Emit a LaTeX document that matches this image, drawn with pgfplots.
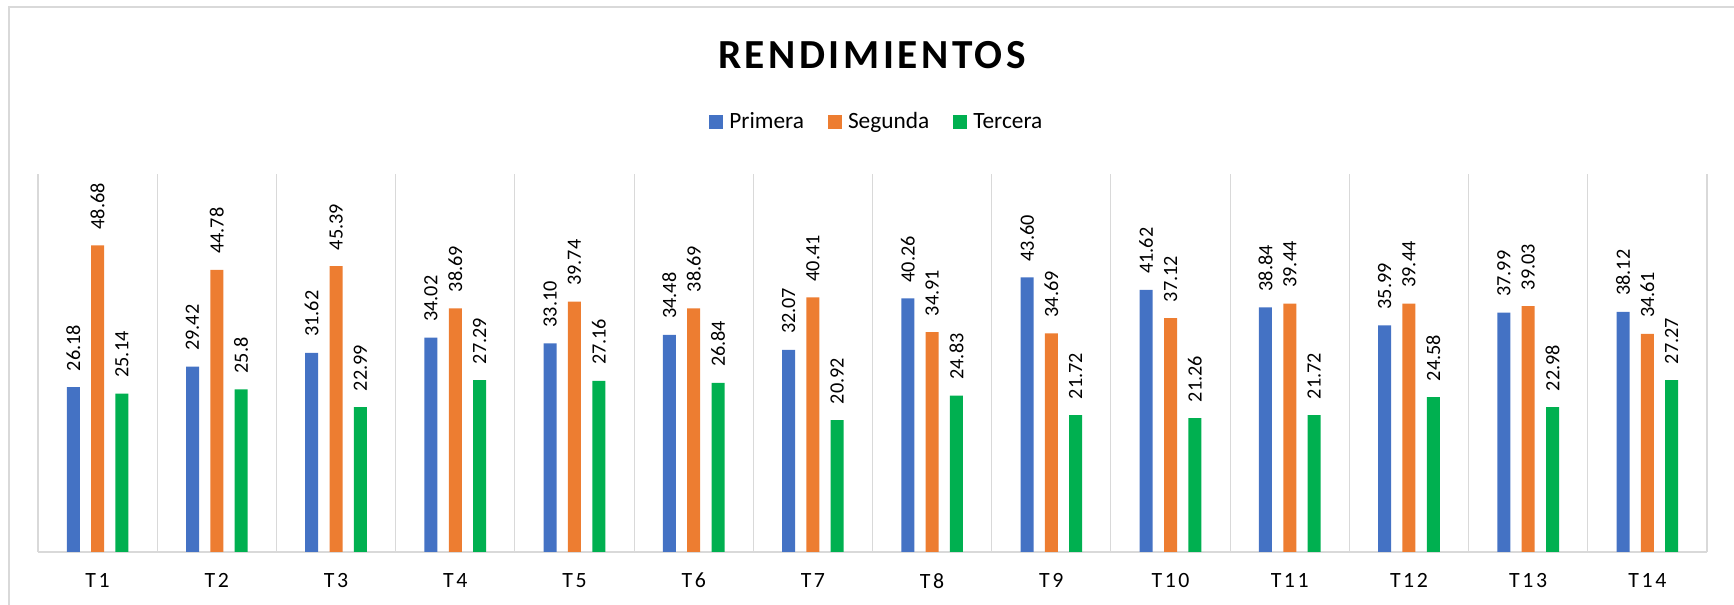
\documentclass[border=0pt]{standalone}
\usepackage{fontspec}
\setmainfont{Carlito}
\usepackage{pgfplots}
\pgfplotsset{compat=1.18}

\definecolor{cPri}{HTML}{4472C4}
\definecolor{cSeg}{HTML}{ED7D31}
\definecolor{cTer}{HTML}{00B050}
\definecolor{gridc}{HTML}{D9D9D9}

\begin{document}
\begin{tikzpicture}
% page = 1734 x 605 px at 0.25 mm per px
\useasboundingbox (0,0) rectangle (433.5mm,151.25mm);
\draw[gridc, line width=0.3mm] (2.25mm,-5mm) rectangle (440mm,149.5mm);

\node[font=\fontsize{29.4}{34}\selectfont\bfseries\addfontfeature{LetterSpace=8.5}]
  at (218mm,137.5mm) {RENDIMIENTOS};

\begin{axis}[
    at={(9.5mm,13.25mm)}, anchor=south west,
    scale only axis,
    width=417.25mm, height=94.5mm,
    ybar=2.83mm, bar width=3.25mm,
    xmin=0.5, xmax=14.5,
    ymin=0, ymax=60,
    enlarge x limits=false,
    axis x line*=bottom, axis y line=none,
    x axis line style={gridc, line width=0.75pt},
    ytick=\empty,
    xtick={1,...,14},
    xticklabels={T1,T2,T3,T4,T5,T6,T7,T8,T9,T10,T11,T12,T13,T14},
    major tick length=0pt, minor tick length=0pt,
    minor xtick={0.5,1.5,...,14.5},
    xminorgrids,
    minor x grid style={gridc, line width=0.75pt},
    xticklabel style={font=\fontsize{15.5}{18}\selectfont\addfontfeature{LetterSpace=12},
        inner sep=0pt, yshift=-5.25mm},
    clip=false,
    point meta=explicit symbolic,
    nodes near coords,
    every node near coord/.append style={font=\fontsize{14.4}{17}\selectfont,
        rotate=90, anchor=west, inner sep=0pt, outer xsep=4mm, text=black},
    legend columns=3,
    legend style={draw=none, fill=none, at={(0.502,1.138)}, anchor=center,
        font=\fontsize{16.6}{20}\selectfont, nodes={inner sep=0pt},
        /tikz/every odd column/.append style={column sep=1.5mm},
        /tikz/every even column/.append style={column sep=6mm}},
]
\addplot[fill=cPri, draw=none,
    legend image code/.code={\fill[cPri] (0mm,-1.75mm) rectangle (3.5mm,1.75mm);}]
coordinates {
    (1,26.18) [26.18] (2,29.42) [29.42] (3,31.62) [31.62] (4,34.02) [34.02]
    (5,33.10) [33.10] (6,34.48) [34.48] (7,32.07) [32.07] (8,40.26) [40.26]
    (9,43.60) [43.60] (10,41.62) [41.62] (11,38.84) [38.84] (12,35.99) [35.99]
    (13,37.99) [37.99] (14,38.12) [38.12]
};
\addlegendentry{Primera}

\addplot[fill=cSeg, draw=none,
    legend image code/.code={\fill[cSeg] (0mm,-1.75mm) rectangle (3.5mm,1.75mm);}]
coordinates {
    (1,48.68) [48.68] (2,44.78) [44.78] (3,45.39) [45.39] (4,38.69) [38.69]
    (5,39.74) [39.74] (6,38.69) [38.69] (7,40.41) [40.41] (8,34.91) [34.91]
    (9,34.69) [34.69] (10,37.12) [37.12] (11,39.44) [39.44] (12,39.44) [39.44]
    (13,39.03) [39.03] (14,34.61) [34.61]
};
\addlegendentry{Segunda}

\addplot[fill=cTer, draw=none,
    legend image code/.code={\fill[cTer] (0mm,-1.75mm) rectangle (3.5mm,1.75mm);}]
coordinates {
    (1,25.14) [25.14] (2,25.8) [25.8] (3,22.99) [22.99] (4,27.29) [27.29]
    (5,27.16) [27.16] (6,26.84) [26.84] (7,20.92) [20.92] (8,24.83) [24.83]
    (9,21.72) [21.72] (10,21.26) [21.26] (11,21.72) [21.72] (12,24.58) [24.58]
    (13,22.98) [22.98] (14,27.27) [27.27]
};
\addlegendentry{Tercera}
\end{axis}
\end{tikzpicture}
\end{document}
